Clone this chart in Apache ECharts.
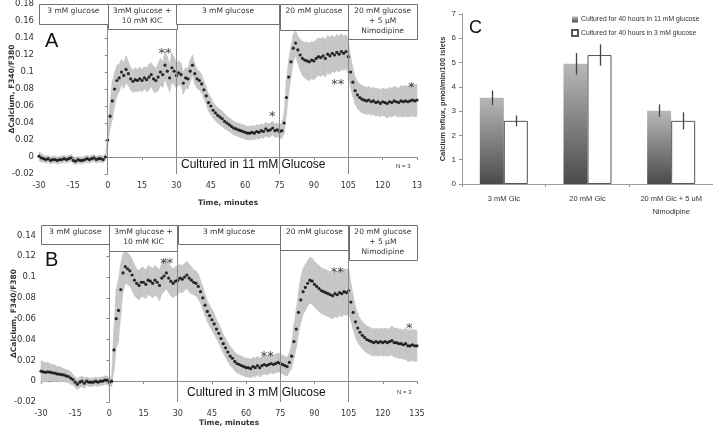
<!DOCTYPE html>
<html><head><meta charset="utf-8">
<script src="https://cdn.jsdelivr.net/npm/echarts@6/dist/echarts.min.js"></script>
<style>html,body{margin:0;padding:0;background:#fff}#c{width:713px;height:429px}</style>
</head><body><div id="c"></div>
<script>
// ---------- DATA ----------
const times = [-30,-29,-28,-27,-26,-25,-24,-23,-22,-21,-20,-19,-18,-17,-16,-15,-14,-13,-12,-11,-10,-9,-8,-7,-6,-5,-4,-3,-2,-1,
0,1,2,3,4,5,6,7,8,9,10,11,12,13,14,15,16,17,18,19,20,21,22,23,24,25,26,27,28,29,
30,31,32,33,34,35,36,37,38,39,40,41,42,43,44,45,46,47,48,49,50,51,52,53,54,55,56,57,58,59,
60,61,62,63,64,65,66,67,68,69,70,71,72,73,74,75,76,77,78,79,80,81,82,83,84,85,86,87,88,89,
90,91,92,93,94,95,96,97,98,99,100,101,102,103,104,105,106,107,108,109,110,111,112,113,114,115,116,117,118,119,
120,121,122,123,124,125,126,127,128,129,130,131,132,133,134,135];

// Panel A: cultured in 11 mM glucose (mean and SE of ΔF340/F380)
const meanA = [0.001,-0.001,-0.002,-0.003,-0.002,-0.004,-0.003,-0.003,-0.004,-0.003,
-0.003,-0.002,-0.003,-0.002,-0.001,-0.004,-0.005,-0.003,-0.004,-0.004,
-0.003,-0.002,-0.003,-0.002,-0.001,-0.003,-0.002,-0.002,-0.003,0.000,
0.020,0.048,0.066,0.080,0.090,0.093,0.100,0.096,0.103,0.098,
0.092,0.089,0.091,0.090,0.092,0.090,0.093,0.091,0.094,0.097,
0.092,0.090,0.094,0.100,0.097,0.108,0.101,0.093,0.105,0.101,
0.096,0.099,0.097,0.087,0.093,0.092,0.101,0.108,0.098,0.092,
0.090,0.086,0.079,0.072,0.064,0.060,0.055,0.052,0.049,0.047,
0.045,0.042,0.040,0.038,0.036,0.034,0.033,0.032,0.031,0.030,
0.029,0.028,0.028,0.029,0.028,0.030,0.029,0.031,0.030,0.033,
0.031,0.032,0.034,0.031,0.032,0.030,0.031,0.040,0.070,0.094,
0.112,0.128,0.134,0.126,0.120,0.116,0.114,0.113,0.112,0.114,
0.113,0.116,0.118,0.117,0.119,0.116,0.121,0.119,0.122,0.120,
0.123,0.121,0.124,0.122,0.124,0.118,0.100,0.088,0.078,0.073,
0.070,0.068,0.067,0.066,0.067,0.065,0.066,0.064,0.065,0.063,
0.065,0.064,0.063,0.065,0.064,0.066,0.065,0.064,0.066,0.065,
0.066,0.065,0.066,0.067,0.066,0.067];
const errA = [0.005,0.005,0.004,0.004,0.004,0.004,0.004,0.004,0.004,0.004,
0.004,0.004,0.004,0.004,0.004,0.004,0.004,0.004,0.004,0.004,
0.004,0.004,0.004,0.004,0.004,0.004,0.004,0.004,0.004,0.004,
0.006,0.015,0.022,0.020,0.018,0.016,0.015,0.015,0.016,0.014,
0.013,0.013,0.014,0.013,0.014,0.013,0.013,0.014,0.015,0.014,
0.015,0.014,0.016,0.016,0.015,0.016,0.017,0.016,0.017,0.016,
0.015,0.014,0.013,0.013,0.012,0.012,0.013,0.012,0.012,0.011,
0.011,0.011,0.010,0.010,0.010,0.010,0.009,0.009,0.009,0.009,
0.009,0.009,0.008,0.008,0.008,0.008,0.008,0.008,0.008,0.008,
0.008,0.008,0.008,0.008,0.008,0.008,0.008,0.008,0.008,0.008,
0.008,0.008,0.008,0.008,0.008,0.008,0.009,0.012,0.020,0.020,
0.018,0.016,0.015,0.016,0.018,0.020,0.021,0.022,0.022,0.022,
0.022,0.022,0.022,0.022,0.022,0.022,0.022,0.022,0.021,0.021,
0.021,0.021,0.021,0.020,0.020,0.020,0.018,0.017,0.016,0.016,
0.016,0.016,0.016,0.016,0.016,0.016,0.016,0.016,0.016,0.016,
0.016,0.016,0.017,0.017,0.017,0.017,0.017,0.017,0.018,0.018,
0.018,0.018,0.018,0.019,0.019,0.019];

// Panel B: cultured in 3 mM glucose
const meanB = [0.0096,0.009,0.0085,0.009,0.0086,0.008,0.0078,0.007,0.0068,0.0062,
0.006,0.005,0.0045,0.003,0.0015,-0.001,-0.003,-0.001,0.000,-0.002,
0.000,-0.001,-0.001,-0.001,0.000,-0.001,0.000,0.000,0.001,0.001,
-0.001,0.000,0.030,0.060,0.068,0.088,0.104,0.110,0.108,0.106,
0.102,0.097,0.094,0.092,0.095,0.095,0.093,0.097,0.096,0.094,
0.097,0.095,0.092,0.099,0.101,0.104,0.099,0.096,0.094,0.096,
0.097,0.099,0.098,0.100,0.102,0.099,0.097,0.095,0.094,0.091,
0.086,0.080,0.073,0.067,0.063,0.059,0.055,0.050,0.046,0.041,
0.036,0.032,0.028,0.024,0.022,0.019,0.017,0.016,0.015,0.014,
0.013,0.013,0.012,0.014,0.013,0.015,0.013,0.015,0.016,0.015,
0.016,0.017,0.016,0.017,0.018,0.017,0.016,0.015,0.014,0.018,
0.024,0.038,0.050,0.066,0.078,0.086,0.090,0.094,0.097,0.096,
0.093,0.091,0.089,0.087,0.086,0.085,0.084,0.083,0.082,0.084,
0.083,0.085,0.084,0.086,0.085,0.087,0.076,0.066,0.057,0.051,
0.047,0.044,0.042,0.040,0.039,0.038,0.037,0.038,0.037,0.038,
0.037,0.038,0.037,0.038,0.039,0.037,0.037,0.036,0.036,0.035,
0.036,0.034,0.034,0.035,0.034,0.034];
const errB = [0.010,0.010,0.009,0.009,0.008,0.008,0.008,0.007,0.007,0.007,
0.006,0.006,0.006,0.006,0.005,0.005,0.005,0.005,0.005,0.005,
0.004,0.004,0.004,0.004,0.004,0.004,0.004,0.004,0.004,0.004,
0.004,0.005,0.020,0.028,0.030,0.025,0.018,0.016,0.015,0.015,
0.015,0.015,0.014,0.014,0.014,0.014,0.014,0.014,0.014,0.014,
0.014,0.014,0.015,0.015,0.015,0.015,0.014,0.014,0.014,0.014,
0.014,0.013,0.013,0.013,0.013,0.013,0.013,0.012,0.012,0.012,
0.011,0.011,0.010,0.010,0.010,0.010,0.010,0.009,0.009,0.009,
0.009,0.009,0.009,0.009,0.009,0.009,0.009,0.009,0.009,0.009,
0.009,0.009,0.009,0.009,0.009,0.009,0.009,0.009,0.009,0.009,
0.009,0.009,0.009,0.009,0.009,0.009,0.009,0.009,0.009,0.009,
0.012,0.016,0.018,0.020,0.022,0.022,0.022,0.022,0.022,0.022,
0.022,0.022,0.022,0.022,0.022,0.022,0.022,0.022,0.022,0.022,
0.022,0.022,0.022,0.022,0.022,0.022,0.018,0.016,0.015,0.014,
0.013,0.013,0.013,0.013,0.013,0.013,0.013,0.013,0.013,0.013,
0.013,0.013,0.013,0.013,0.014,0.014,0.014,0.014,0.014,0.014,
0.015,0.015,0.015,0.015,0.015,0.015];

// Perfusion phases
const phaseStart = [-30, 0, 30, 75, 105];
const phaseEnd = [0, 30, 75, 105, 135];
const phaseLabels = ['3 mM glucose', '3mM glucose +\n10 mM KIC', '3 mM glucose', '20 mM glucose', '20 mM glucose\n+ 5 \u00b5M\nNimodipine'];
const phaseBoundaries = [0, 30, 75, 105];

// x tick values and labels (panel A's last label is cut to "13" in the reference)
const xTickValues = [-30,-15,0,15,30,45,60,75,90,105,120,135];
const xTickLabelsA = ['-30','-15','0','15','30','45','60','75','90','105','120','13'];
const xTickLabelsB = ['-30','-15','0','15','30','45','60','75','90','105','120','135'];

// significance stars (time, value, text)
const starsA_t = [25, 71.8, 100.4, 132.5];
const starsA_v = [0.1255, 0.0507, 0.089, 0.0857];
const starsA_txt = ['**', '*', '**', '*'];
const starsB_t = [25.2, 69.3, 100, 131.6];
const starsB_v = [0.1158, 0.0266, 0.107, 0.0534];
const starsB_txt = ['**', '**', '**', '*'];

// Panel C
const catsC = ['3 mM Glc', '20 mM Glc', '20 mM Glc + 5 uM\nNimodipine'];
const influx11 = [3.55, 4.95, 3.02];
const err11 = [0.30, 0.44, 0.26];
const influx3 = [2.60, 5.31, 2.60];
const err3 = [0.22, 0.44, 0.35];
const nameC11 = 'Cultured for 40 hours in 11 mM glucose';
const nameC3 = 'Cultured for 40 hours in 3 mM glucose';

// ---------- CHART ----------
const fAB = 'DejaVu Sans';
const fC = '"Liberation Sans", Arial, sans-serif';
const axisGray = '#8c8c8c';
const txt = '#333';

function xAxisFor(gi, labels, nameGap){
  return {type:'value', gridIndex:gi, min:-30, max:135, interval:15,
    name:'Time, minutes', nameLocation:'middle', nameGap:nameGap, nameMoveOverlap:false,
    nameTextStyle:{fontFamily:fAB, fontWeight:'bold', fontSize:7.5, color:txt},
    axisLine:{show:true, lineStyle:{color:axisGray}},
    axisTick:{show:true, length:3, lineStyle:{color:axisGray}},
    splitLine:{show:false},
    axisLabel:{fontFamily:fAB, fontSize:8, color:txt, margin:8, showMinLabel:true, showMaxLabel:true,
      formatter:v=>{const i=xTickValues.indexOf(Math.round(v)); return i>=0?labels[i]:'';}}};
}
function yAxisFor(gi, max, hideVal){
  return {type:'value', gridIndex:gi, min:-0.02, max:max, interval:0.02,
    name:'\u0394Calcium, F340/F380', nameLocation:'middle', nameGap:23, nameMoveOverlap:false,
    nameTextStyle:{fontFamily:fAB, fontWeight:'bold', fontSize:7.5, color:txt},
    axisLine:{show:true, lineStyle:{color:axisGray}},
    axisTick:{show:true, length:3, lineStyle:{color:axisGray}},
    splitLine:{show:false},
    axisLabel:{fontFamily:fAB, fontSize:8.5, color:txt, margin:5,
      formatter:v=>{ if(hideVal!==null && Math.abs(v-hideVal)<1e-6) return ''; return String(+v.toFixed(2)); }}};
}
// error band: one quad between consecutive samples, from mean-err to mean+err
function bandSeries(gi, mean, err){
  return {type:'custom', xAxisIndex:gi, yAxisIndex:gi, z:1, silent:true,
    data: times.map((t,i)=>[t, mean[i], err[i]]),
    encode:{x:0, y:1},
    renderItem:(params, api)=>{
      const i = params.dataIndex;
      if (i >= times.length-1) return null;
      const a1 = api.coord([times[i], mean[i]+err[i]]);
      const a2 = api.coord([times[i+1], mean[i+1]+err[i+1]]);
      const b2 = api.coord([times[i+1], mean[i+1]-err[i+1]]);
      const b1 = api.coord([times[i], mean[i]-err[i]]);
      return {type:'polygon', shape:{points:[a1,a2,b2,b1]},
        style:{fill:'#c6c6c6', stroke:'#c6c6c6', lineWidth:0.6}};
    }};
}
function meanSeries(gi, mean){
  return {type:'scatter', xAxisIndex:gi, yAxisIndex:gi, symbolSize:3.2, itemStyle:{color:'#000'}, z:3, silent:true,
    data: times.map((t,i)=>[t, mean[i]]),
    markLine:{silent:true, symbol:'none', animation:false, label:{show:false},
      lineStyle:{color:'#8a8a8a', width:1, type:'solid'},
      data: phaseBoundaries.map(b=>({xAxis:b}))}};
}
function phaseSeries(gi, heights){
  return {type:'custom', xAxisIndex:gi, yAxisIndex:gi, z:6, silent:true, clip:false,
    data: phaseStart.map((s,i)=>[s, phaseEnd[i]]),
    encode:{x:[0,1]},
    renderItem:(params, api)=>{
      const i = params.dataIndex;
      const top = params.coordSys.y;
      const x0 = api.coord([api.value(0), 0])[0];
      const x1 = api.coord([api.value(1), 0])[0];
      return {type:'group', children:[
        {type:'rect', shape:{x:Math.round(x0)+0.5, y:Math.round(top)+0.5, width:Math.round(x1-x0), height:heights[i]},
          style:{fill:'#fff', stroke:'#707070', lineWidth:1}},
        {type:'text', x:(x0+x1)/2, y:top+2.5,
          style:{text:phaseLabels[i], textAlign:'center', align:'center', textVerticalAlign:'top', verticalAlign:'top',
            fontFamily:fAB, fontSize:7.5, fill:txt, lineHeight:10}}
      ]};
    }};
}
function starSeries(gi, ts, vs, tx){
  return {type:'scatter', xAxisIndex:gi, yAxisIndex:gi, symbolSize:1, itemStyle:{color:'rgba(0,0,0,0)'}, z:7, silent:true,
    data: ts.map((t,i)=>({value:[t, vs[i]], name:tx[i]})),
    label:{show:true, position:'inside', formatter:'{b}', fontFamily:fAB, fontSize:13, color:'#111', offset:[0,3]}};
}

const barGradient = new echarts.graphic.LinearGradient(0,0,0,1,[
  {offset:0, color:'#b8b8b8'},{offset:1, color:'#4a4a4a'}]);

function errBarSeries(vals, errs, off){
  return {type:'custom', xAxisIndex:2, yAxisIndex:2, z:8, silent:true,
    data: vals.map((v,i)=>[i, v, errs[i]]),
    renderItem:(params, api)=>{
      const idx = api.value(0), v = api.value(1), e = api.value(2);
      const p1 = api.coord([idx, v+e]), p2 = api.coord([idx, v-e]);
      const x = Math.round(p1[0]+off)+0.5;
      return {type:'line', shape:{x1:x, y1:p1[1], x2:x, y2:p2[1]}, style:{stroke:'#444', lineWidth:1.3}};
    }};
}

const option = {
  animation:false,
  backgroundColor:'#fff',
  grid:[
    {left:39, top:4, width:378, height:170, outerBoundsMode:'none', containLabel:false},
    {left:41, top:225, width:376, height:177, outerBoundsMode:'none', containLabel:false},
    {left:462, top:14, width:251, height:170, outerBoundsMode:'none', containLabel:false}
  ],
  xAxis:[
    xAxisFor(0, xTickLabelsA, 25),
    xAxisFor(1, xTickLabelsB, 17),
    {type:'category', gridIndex:2, data:catsC,
      axisLine:{show:true, lineStyle:{color:'#999'}},
      axisTick:{show:true, alignWithLabel:false, length:3, lineStyle:{color:'#999'}},
      axisLabel:{fontFamily:fC, fontSize:7.5, color:txt, margin:8, lineHeight:13, interval:0}}
  ],
  yAxis:[
    yAxisFor(0, 0.18, null),
    yAxisFor(1, 0.15, 0.15),
    {type:'value', gridIndex:2, min:0, max:7, interval:1,
      name:'Calcium Influx, pmol/min/100 islets', nameLocation:'middle', nameGap:15,
      nameTextStyle:{fontFamily:fC, fontWeight:'bold', fontSize:7.5, color:txt},
      axisLine:{show:true, lineStyle:{color:'#999'}},
      axisTick:{show:true, length:3, lineStyle:{color:'#999'}},
      splitLine:{show:false},
      axisLabel:{fontFamily:fC, fontSize:8, color:txt, margin:6}}
  ],
  legend:{show:true, orient:'vertical', left:571, top:16, itemWidth:6, itemHeight:6, itemGap:6, padding:0,
    icon:'rect', selectedMode:false,
    textStyle:{fontFamily:fC, fontSize:6.8, color:txt, padding:[0,0,0,-2]},
    data:[nameC11, nameC3]},
  series:[
    bandSeries(0, meanA, errA),
    meanSeries(0, meanA),
    phaseSeries(0, [20,25,20,26,35]),
    starSeries(0, starsA_t, starsA_v, starsA_txt),
    bandSeries(1, meanB, errB),
    meanSeries(1, meanB),
    phaseSeries(1, [19,26,19,25,35]),
    starSeries(1, starsB_t, starsB_v, starsB_txt),
    {type:'bar', name:nameC11, xAxisIndex:2, yAxisIndex:2, data:influx11, barWidth:24, barGap:'0%',
      itemStyle:{color:barGradient}},
    {type:'bar', name:nameC3, xAxisIndex:2, yAxisIndex:2, data:influx3, barWidth:24, barGap:'0%',
      itemStyle:{color:'#fff', borderColor:'#555', borderWidth:1}},
    errBarSeries(influx11, err11, -12),
    errBarSeries(influx3, err3, 12)
  ],
  graphic:[
    {type:'text', left:45, top:31, style:{text:'A', fontFamily:'Liberation Sans', fontSize:20, fill:'#111'}},
    {type:'text', left:45, top:250, style:{text:'B', fontFamily:'Liberation Sans', fontSize:20, fill:'#111'}},
    {type:'text', left:469, top:19, style:{text:'C', fontFamily:'Liberation Sans', fontSize:18, fill:'#111'}},
    {type:'text', left:181, top:159, style:{text:'Cultured in 11 mM Glucose', fontFamily:'Liberation Sans', fontSize:12, fill:'#111'}},
    {type:'text', left:187, top:387, style:{text:'Cultured in 3 mM Glucose', fontFamily:'Liberation Sans', fontSize:12, fill:'#111'}},
    {type:'text', left:396, top:163, style:{text:'N = 3', fontFamily:'Liberation Sans', fontSize:6, fill:'#333'}},
    {type:'text', left:397, top:389, style:{text:'N = 3', fontFamily:'Liberation Sans', fontSize:6, fill:'#333'}}
  ]
};
const chart = echarts.init(document.getElementById('c'));
chart.setOption(option);
</script>
</body></html>
